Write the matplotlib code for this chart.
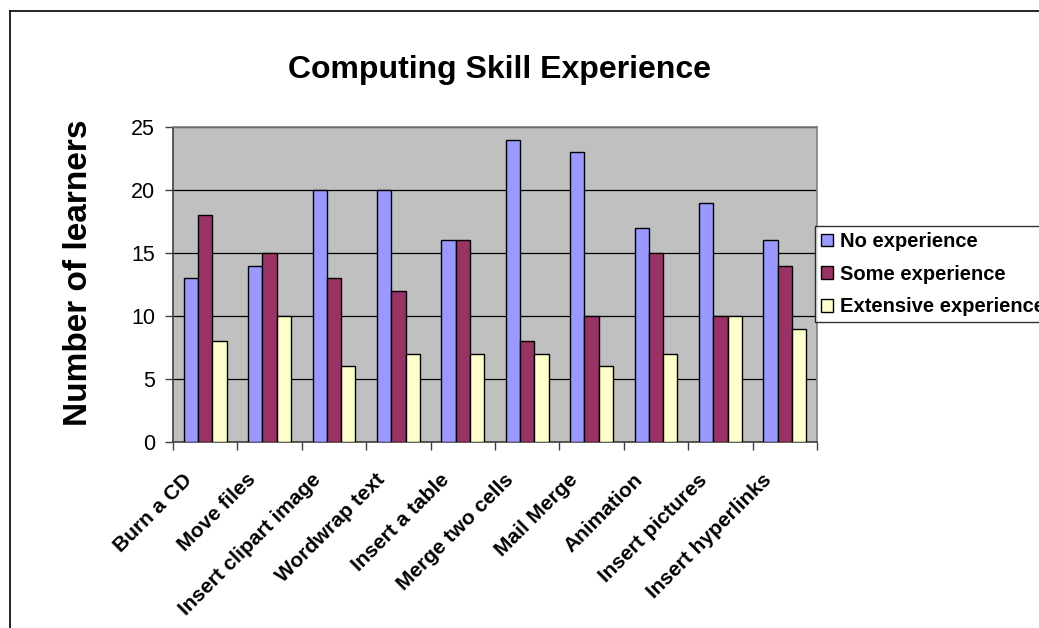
import matplotlib
matplotlib.use("Agg")
import matplotlib.pyplot as plt
import matplotlib.transforms as mtransforms
import numpy as np
from matplotlib.lines import Line2D

categories = ["Burn a CD", "Move files", "Insert clipart image", "Wordwrap text",
              "Insert a table", "Merge two cells", "Mail Merge", "Animation",
              "Insert pictures", "Insert hyperlinks"]
no_exp = [13, 14, 20, 20, 16, 24, 23, 17, 19, 16]
some_exp = [18, 15, 13, 12, 16, 8, 10, 15, 10, 14]
ext_exp = [8, 10, 6, 7, 7, 7, 6, 7, 10, 9]
series_names = ["No experience", "Some experience", "Extensive experience"]
colors = ["#9999FF", "#993366", "#FFFFCC"]
yticks = [0, 5, 10, 15, 20, 25]

plt.rcParams['font.family'] = ['Liberation Sans', 'DejaVu Sans']

W, H = 1039, 628
fig = plt.figure(figsize=(W / 100, H / 100), dpi=100)
fig.patch.set_facecolor("white")

x0, x1 = 173, 817
y0, y1 = 127, 442
ax = fig.add_axes([x0 / W, 1 - y1 / H, (x1 - x0) / W, (y1 - y0) / H])
ax.set_facecolor("#C0C0C0")

n = len(categories)
x = np.arange(n)
bw = 1 / 4.5
for i, (vals, c, name) in enumerate(zip([no_exp, some_exp, ext_exp], colors, series_names)):
    ax.bar(x + (i - 1) * bw, vals, width=bw, color=c, edgecolor="black",
           linewidth=1.0, label=name, zorder=3)

ax.set_xlim(-0.5, n - 0.5)
ax.set_ylim(0, 25)
ax.set_yticks(yticks)
ax.set_yticklabels([str(v) for v in yticks], fontsize=15.5)
ax.yaxis.grid(True, color="black", linewidth=0.9, zorder=1)
ax.set_axisbelow(True)

ax.set_xticks(np.arange(-0.5, n, 1.0))
ax.set_xticklabels([])
ax.set_xticks(x, minor=True)
ax.set_xticklabels(categories, minor=True, rotation=45, ha="right",
                   rotation_mode="anchor", fontsize=15, fontweight="bold")
ax.tick_params(axis="x", which="minor", length=0, pad=8)
ax.tick_params(axis="x", which="major", length=6, width=1, color="#404040", direction="out")
ax.tick_params(axis="y", length=6, width=1, color="#404040", direction="out", pad=7)
off = mtransforms.ScaledTranslation(-23 / 100, -17 / 100, fig.dpi_scale_trans)
for lbl in ax.get_xticklabels(minor=True):
    lbl.set_transform(lbl.get_transform() + off)

for s in ["left", "bottom"]:
    ax.spines[s].set_color("#404040")
    ax.spines[s].set_linewidth(1.2)
for s in ["top", "right"]:
    ax.spines[s].set_color("#808080")
    ax.spines[s].set_linewidth(1.2)

fig.text(499 / W, 1 - 70 / H, "Computing Skill Experience", ha="center", va="center",
         fontsize=23, fontweight="bold")
fig.text(79 / W, 1 - 273 / H, "Number of learners", ha="center", va="center",
         rotation=90, fontsize=24, fontweight="bold")

fig.add_artist(Line2D([10 / W, 10 / W], [1 - 11 / H, 0], transform=fig.transFigure,
                      color="black", linewidth=1.2))
fig.add_artist(Line2D([10 / W, 1], [1 - 11 / H, 1 - 11 / H], transform=fig.transFigure,
                      color="black", linewidth=1.2))

leg = fig.legend(loc="upper left", bbox_to_anchor=(815 / W, 1 - 226 / H),
                 prop={"weight": "bold", "size": 14.5},
                 frameon=True, fancybox=False, edgecolor="black",
                 handlelength=0.6, handleheight=0.6, handletextpad=0.35,
                 labelspacing=0.68, borderpad=0.3, borderaxespad=0)
leg.get_frame().set_linewidth(1.0)

fig.savefig("out.png", dpi=100, facecolor="white")
